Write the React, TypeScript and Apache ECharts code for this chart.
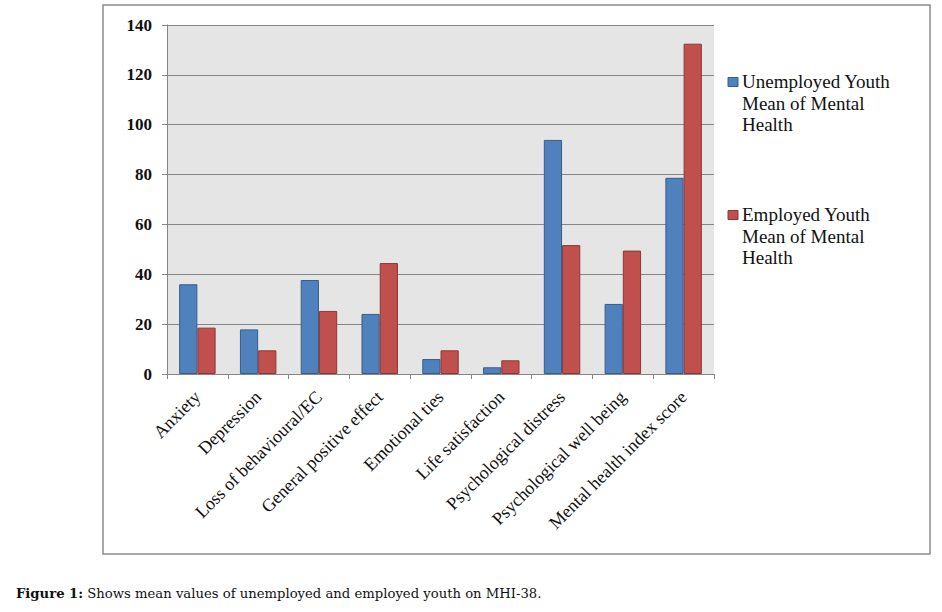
import React, { useEffect, useRef } from "react";
import * as echarts from "echarts";

const categories = [
  "Anxiety",
  "Depression",
  "Loss of behavioural/EC",
  "General positive effect",
  "Emotional ties",
  "Life satisfaction",
  "Psychological distress",
  "Psychological well being",
  "Mental health index score",
];
const unemployed = [36, 17.9, 37.7, 24.1, 6, 2.7, 93.9, 28.1, 78.7];
const employed = [18.6, 9.5, 25.3, 44.5, 9.5, 5.5, 51.7, 49.5, 132.5];
const seriesNames = [
  "Unemployed Youth\nMean of Mental\nHealth",
  "Employed Youth\nMean of Mental\nHealth",
];
const seriesColors = ["#4F81BD", "#C0504D"];
const seriesBorders = ["#385D8A", "#8C3836"];
const yMin = 0;
const yMax = 140;
const yInterval = 20;
const captionBold = "Figure 1:";
const captionText = " Shows mean values of unemployed and employed youth on MHI-38.";

const SERIF = "'Liberation Serif', 'Times New Roman', serif";

export default function App() {
  const ref = useRef<HTMLDivElement>(null);
  useEffect(() => {
    if (!ref.current) return;
    const chart = echarts.init(ref.current, undefined, { renderer: "svg" });
    const legendTops = [71, 204];
    const legendGraphics: any[] = [];
    seriesNames.forEach((name, i) => {
      legendGraphics.push({
        type: "rect",
        shape: { x: 728, y: legendTops[i] + 6.5, width: 10, height: 9 },
        style: { fill: seriesColors[i], stroke: seriesBorders[i], lineWidth: 1 },
        silent: true,
      });
      legendGraphics.push({
        type: "text",
        x: 742,
        y: legendTops[i],
        style: {
          text: name,
          fontFamily: SERIF,
          fontSize: 19,
          lineHeight: 21.5,
          fill: "#111",
          verticalAlign: "top",
        },
        silent: true,
      });
    });
    chart.setOption({
      animation: false,
      backgroundColor: "#fff",
      grid: {
        left: 167,
        top: 25,
        right: 228,
        bottom: 238,
        show: true,
        backgroundColor: "#E5E5E5",
        borderWidth: 0,
      },
      xAxis: {
        type: "category",
        data: categories,
        axisLine: { lineStyle: { color: "#868686", width: 1 } },
        axisTick: { show: true, length: 5, lineStyle: { color: "#868686" } },
        axisLabel: {
          rotate: 45,
          interval: 0,
          margin: 20,
          fontFamily: SERIF,
          fontSize: 18,
          color: "#111",
        },
        splitLine: { show: false },
      },
      yAxis: {
        type: "value",
        min: yMin,
        max: yMax,
        interval: yInterval,
        axisLine: { show: true, lineStyle: { color: "#868686", width: 1 } },
        axisTick: { show: true, length: 5, lineStyle: { color: "#868686" } },
        splitLine: { show: true, lineStyle: { color: "#868686", width: 1 } },
        axisLabel: {
          margin: 15,
          fontFamily: SERIF,
          fontSize: 17,
          fontWeight: "bold",
          color: "#111",
        },
      },
      series: [
        {
          name: seriesNames[0],
          type: "bar",
          data: unemployed,
          barGap: "0%",
          barCategoryGap: "40%",
          itemStyle: { color: seriesColors[0], borderColor: seriesBorders[0], borderWidth: 1 },
        },
        {
          name: seriesNames[1],
          type: "bar",
          data: employed,
          barGap: "0%",
          barCategoryGap: "40%",
          itemStyle: { color: seriesColors[1], borderColor: seriesBorders[1], borderWidth: 1 },
        },
      ],
      graphic: [
        {
          type: "rect",
          shape: { x: 103, y: 5, width: 827, height: 549 },
          style: { fill: "none", stroke: "#8c8c8c", lineWidth: 1.5 },
          silent: true,
          z: -1,
        },
        ...legendGraphics,
        {
          type: "text",
          x: 16,
          y: 593,
          style: {
            text: "{b|" + captionBold + "}" + captionText,
            fontFamily: "'DejaVu Serif', serif",
            fontSize: 13.2,
            fill: "#111",
            verticalAlign: "middle",
            rich: {
              b: {
                fontFamily: "'DejaVu Serif', serif",
                fontSize: 13.2,
                fontWeight: "bold",
                fill: "#111",
              },
            },
          },
        },
      ],
    });
    return () => chart.dispose();
  }, []);
  return (
    <div
      ref={ref}
      style={{ position: "absolute", left: 0, top: 0, width: 942, height: 612 }}
    />
  );
}
